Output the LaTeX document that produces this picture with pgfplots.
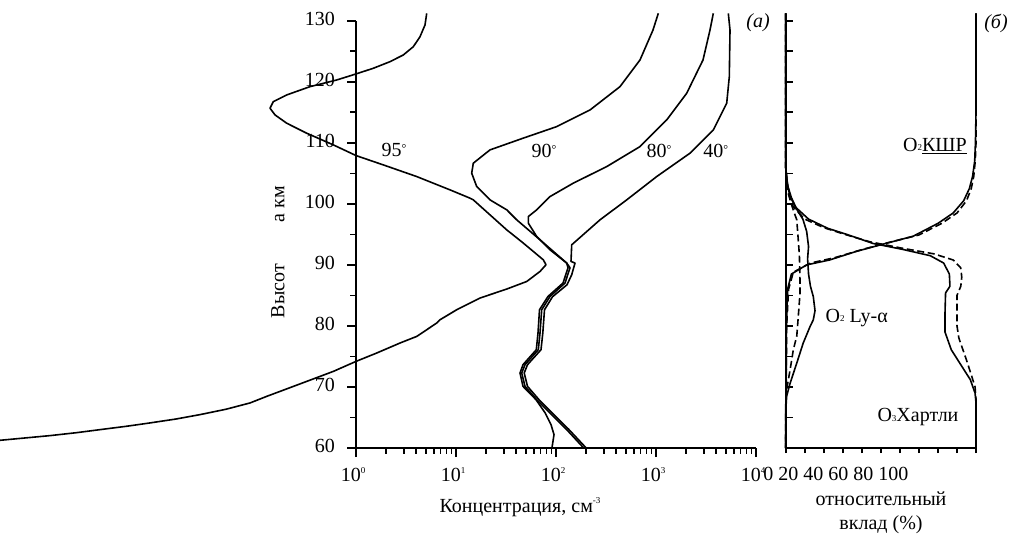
\documentclass[border=0pt]{standalone}
\usepackage{fontspec}
\setmainfont{Liberation Serif}
\usepackage{pgfplots}
\pgfplotsset{compat=1.18}
\newcommand{\sups}[1]{\raisebox{0.9ex}{\fontsize{4.5}{5}\selectfont #1}}
\newcommand{\subs}[1]{\raisebox{0.1ex}{\fontsize{4.5}{5}\selectfont #1}}
\newcommand{\dg}{\raisebox{0.45ex}{\fontsize{6}{6}\selectfont °}}
\begin{document}
\begin{tikzpicture}
\pgfplotsset{cv/.style={black, line width=0.8pt, line join=round, mark=none},
  cvd/.style={cv, dash pattern=on 3.5pt off 1.8pt}}
% ---------------- panel (a) ----------------
\begin{axis}[
  at={(178pt,45pt)}, anchor=south west, scale only axis,
  width=200pt, height=213.65pt,
  xmin=0, xmax=4, ymin=60, ymax=130,
  axis lines=left, axis line style={-, line width=0.9pt},
  clip=false,
  tick align=outside, major tick length=4.5pt, minor tick length=2.8pt,
  tick style={black, line width=0.8pt},
  xtick={0,1,2,3,4},
  xticklabels={10\sups{0},10\sups{1},10\sups{2},10\sups{3},10\sups{4}},
  minor xtick={0.30103,0.47712,0.60206,0.69897,0.77815,0.84510,0.90309,0.95424,
               1.30103,1.47712,1.60206,1.69897,1.77815,1.84510,1.90309,1.95424,
               2.30103,2.47712,2.60206,2.69897,2.77815,2.84510,2.90309,2.95424,
               3.30103,3.47712,3.60206,3.69897,3.77815,3.84510,3.90309,3.95424},
  ytick={60,70,...,130}, minor ytick={65,75,...,125},
  /pgf/number format/assume math mode=true,
  xticklabel style={xshift=-1.5pt, yshift=-1.5pt},
  yticklabel style={xshift=-2.5pt, yshift=1pt},
]
% 95 deg
\addplot[cv] table {
0.707 131.21
0.69 129.30
0.64 127.38
0.573 125.74
0.473 124.39
0.34 123.29
0.173 122.21
0 121.28
-0.193 120.29
-0.46 119.20
-0.693 117.84
-0.827 116.74
-0.86 115.66
-0.81 114.57
-0.693 113.21
-0.493 111.57
-0.227 109.66
0 107.91
0.273 106.38
0.607 104.47
0.94 102.29
1.14 100.93
1.173 100.65
1.507 95.74
1.673 93.57
1.873 90.83
1.90 90.02
1.84 88.92
1.707 87.28
1.507 86.04
1.24 84.57
1.007 82.65
0.84 81.01
0.807 80.47
0.607 78.28
0.44 77.20
0.207 75.56
0 74.19
-0.227 72.55
-0.56 70.5
-0.893 68.46
-1.06 67.38
-1.30 66.35
-1.56 65.47
-1.80 64.75
-2.06 64.11
-2.30 63.55
-2.56 63.01
-2.80 62.50
-3.06 62.03
-3.6 61.2
};
% 90 deg
\addplot[cv] table {
3.023 131.21
2.97 128.48
2.84 123.57
2.64 119.20
2.34 115.38
2.007 112.65
1.67 110.75
1.34 108.84
1.173 106.66
1.157 105.02
1.207 102.83
1.34 100.65
1.507 99.02
1.607 97.38
1.84 94.11
2.107 90.30
2.12 89.53
2.07 87.02
1.92 84.83
1.835 82.65
1.82 78.84
1.803 76.10
1.67 73.65
1.64 72.29
1.67 70.10
1.80 67.92
1.89 65.79
1.95 63.83
1.98 62.19
1.96 60.07
};
% 80 deg
\addplot[cv] table {
3.573 131.21
3.54 128.48
3.47 123.57
3.307 118.12
3.107 113.75
2.84 109.38
2.507 106.10
2.173 103.39
1.94 101.19
1.807 99.02
1.723 97.92
1.723 96.84
1.807 94.65
1.94 92.47
2.107 90.30
2.14 89.53
2.09 87.02
1.94 84.83
1.857 82.65
1.84 78.84
1.823 76.10
1.69 73.65
1.657 72.29
1.69 70.10
1.807 67.92
1.94 65.74
2.107 63.01
2.273 60.07
};
% 40 deg
\addplot[cv] table {
3.723 131.21
3.74 128.48
3.733 120.83
3.707 116.48
3.573 112.11
3.34 108.30
3.007 104.47
2.707 100.65
2.44 97.38
2.157 93.29
2.15 90.56
2.19 90.30
2.157 88.38
2.11 86.74
1.965 84.78
1.885 82.65
1.868 78.84
1.85 76.10
1.715 73.65
1.682 72.29
1.715 70.10
1.83 67.92
1.963 65.74
2.13 63.01
2.298 60.07
};
\node at (axis cs:0.38,108.76) {95\dg};
\node at (axis cs:1.88,108.67) {90\dg};
\node at (axis cs:3.03,108.67) {80\dg};
\node at (axis cs:3.597,108.67) {40\dg};
\node at (axis cs:4.02,129.6) {\textit{(a)}};
\end{axis}
% ---------------- panel (b): y axis with inner ticks ----------------
\begin{axis}[
  at={(392.85pt,45pt)}, anchor=south west, scale only axis,
  width=95.15pt, height=213.65pt,
  xmin=0, xmax=100, ymin=60, ymax=130,
  axis x line=none, axis y line=left, axis line style={-, line width=0.9pt},
  tick align=inside, major tick length=3.8pt,
  tick style={black, line width=0.8pt},
  ytick={60,65,...,130}, yticklabels={},
]
\addplot[draw=none] coordinates {(0,60)};
\end{axis}
% ---------------- panel (b): data ----------------
\begin{axis}[
  at={(392.85pt,45pt)}, anchor=south west, scale only axis,
  width=95.15pt, height=213.65pt,
  xmin=0, xmax=100, ymin=60, ymax=130,
  axis lines=left, axis line style={-, line width=0.9pt},
  clip=false,
  tick align=outside, major tick length=2.5pt,
  tick style={black, line width=0.8pt},
  xtick={0,10,...,100}, xticklabels={},
  ytick=\empty,
]
% O2 SRC solid
\addplot[cv] table {
100 131.2
100 115
99.7 110
99.3 107
98.2 104.5
96.5 102.5
93.5 100.5
88 98.5
80 96.8
67 94.7
50 93.3
37 92.2
23 90.8
11 90.0
3 88.5
1 86
0.4 80
0 60
};
% O2 SRC dashed
\addplot[cvd] table {
100 131.2
100 110
99.6 107
98.8 104.5
97.5 102.5
95 100.5
90 98.5
82 96.8
70 94.9
52 93.5
40 92.5
26 91.2
13 90.3
4 88.8
1.5 86
0.5 80
0 60
};
% O3 Hartley solid
\addplot[cv] table {
0 131.2
0 106
0.5 104
2 101.5
5 99.5
12 97.5
22 96
32 95
46 93.5
62 92.5
76 91.5
83 90.3
86 88.5
86.3 86.5
84 85.4
83.7 82
83.7 79
87 76.1
92.5 73.4
97 71.2
99.5 69
100 67.4
100 60
};
% O3 Hartley dashed
\addplot[cvd] table {
0 131.2
0 106
0.5 104
1.5 101.5
4 99.5
10 97.5
20 96.1
30 95.1
44 93.8
60 92.8
78 91.8
88 90.8
92 89.5
92.5 88
92 86.5
90 85
90 80
91 78
95 74.4
97.5 72
99.5 70
100 68
100 60
};
% O2 Ly-alpha solid
\addplot[cv] table {
0 131.2
0 106
1 103
3 101
6 99
9 97.5
11 95.5
12 93
11.5 91
12 88.5
13 86.5
14.5 84.8
15.4 82.5
14.5 81
12.8 79.9
9.2 77.2
5.8 73.9
2.3 70.6
0.5 68.5
0 66
0 60
};
% O2 Ly-alpha dashed
\addplot[cvd] table {
0 131.2
0 106
1 102.5
2.3 100.6
4.5 98.5
5.8 97.4
6.6 94.1
7.2 91.5
7.5 87.6
7.5 85.3
6.6 81.5
5.8 78.3
4 76.1
2.3 72.8
0.5 69.6
0 67
0 60
};
\node at (axis cs:78.4,109.4) {O\subs{2}\underline{КШР}};
\node at (axis cs:37.3,81.3) {O\subs{2} Ly-α};
\node at (axis cs:69.5,65.0) {O\subs{3}Хартли};
\node at (axis cs:110.5,129.6) {\textit{(б)}};
\end{axis}
% ---------------- free text ----------------
\node[anchor=base west, inner sep=0pt] at (381.5pt,29pt) {0 20 40 60 80 100};
\node[align=center, inner sep=0pt] at (440.5pt,12.5pt) {относительный\\вклад (\%)};
\node[anchor=base, inner sep=0pt] at (260pt,13pt) {Концентрация, см\sups{-3}};
\node[rotate=90, inner sep=0pt] at (139pt,143pt) {Высот\hspace{21pt}а км};
\pgfresetboundingbox
\path[use as bounding box] (0pt,0pt) rectangle (505.5pt,269pt);
\end{tikzpicture}
\end{document}
